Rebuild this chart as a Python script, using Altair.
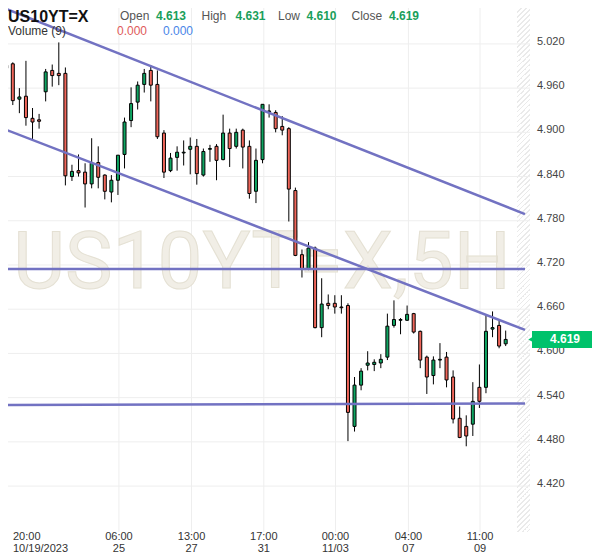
import altair as alt
import pandas as pd

# ---------------- data ----------------
opens = [4.991, 4.993, 4.945, 4.949, 4.919, 4.917, 4.955, 4.984, 4.980, 4.980,
         4.840, 4.848, 4.846, 4.830, 4.859, 4.842, 4.819, 4.835, 4.870, 4.916,
         4.941, 4.965, 4.984, 4.965, 4.899, 4.848, 4.866, 4.872, 4.877, 4.881,
         4.842, 4.877, 4.881, 4.863, 4.899, 4.881, 4.903, 4.881, 4.820, 4.863,
         4.928, 4.927, 4.908, 4.905, 4.821, 4.734, 4.714, 4.743, 4.635, 4.668,
         4.668, 4.663, 4.665, 4.501, 4.557, 4.584, 4.585, 4.587, 4.595, 4.638,
         4.645, 4.645, 4.654, 4.630, 4.595, 4.570, 4.591, 4.595, 4.568, 4.512,
         4.501, 4.504, 4.554, 4.554, 4.633, 4.638, 4.613]
highs = [4.997, 4.995, 4.960, 4.997, 4.933, 4.925, 4.986, 4.992, 5.022, 4.988,
         4.856, 4.870, 4.858, 4.892, 4.881, 4.843, 4.842, 4.869, 4.920, 4.961,
         4.969, 4.986, 4.991, 4.984, 4.903, 4.872, 4.881, 4.889, 4.893, 4.891,
         4.878, 4.883, 4.884, 4.924, 4.905, 4.905, 4.905, 4.889, 4.878, 4.938,
         4.938, 4.930, 4.922, 4.907, 4.825, 4.741, 4.751, 4.745, 4.702, 4.680,
         4.679, 4.679, 4.668, 4.568, 4.580, 4.603, 4.592, 4.599, 4.654, 4.672,
         4.648, 4.665, 4.655, 4.631, 4.597, 4.596, 4.614, 4.602, 4.577, 4.528,
         4.516, 4.561, 4.585, 4.652, 4.657, 4.644, 4.631]
lows = [4.974, 4.937, 4.926, 4.909, 4.891, 4.905, 4.942, 4.962, 4.964, 4.828,
        4.834, 4.840, 4.798, 4.824, 4.824, 4.809, 4.805, 4.815, 4.851, 4.907,
        4.931, 4.954, 4.942, 4.891, 4.838, 4.846, 4.848, 4.855, 4.843, 4.829,
        4.840, 4.860, 4.835, 4.862, 4.853, 4.878, 4.851, 4.810, 4.804, 4.858,
        4.920, 4.900, 4.896, 4.779, 4.732, 4.703, 4.713, 4.634, 4.622, 4.660,
        4.654, 4.654, 4.481, 4.494, 4.550, 4.577, 4.576, 4.580, 4.591, 4.635,
        4.626, 4.644, 4.627, 4.580, 4.545, 4.558, 4.580, 4.554, 4.505, 4.485,
        4.474, 4.488, 4.526, 4.546, 4.622, 4.607, 4.610]
closes = [4.987, 4.943, 4.948, 4.920, 4.914, 4.915, 4.982, 4.977, 4.977, 4.841,
          4.847, 4.845, 4.830, 4.858, 4.839, 4.820, 4.835, 4.869, 4.914, 4.939,
          4.964, 4.980, 4.964, 4.894, 4.846, 4.865, 4.873, 4.873, 4.881, 4.844,
          4.874, 4.878, 4.862, 4.899, 4.878, 4.900, 4.880, 4.817, 4.862, 4.938,
          4.929, 4.905, 4.903, 4.823, 4.733, 4.715, 4.743, 4.635, 4.667, 4.665,
          4.663, 4.662, 4.520, 4.557, 4.576, 4.587, 4.588, 4.592, 4.637, 4.646,
          4.646, 4.653, 4.629, 4.591, 4.568, 4.591, 4.592, 4.564, 4.511, 4.486,
          4.488, 4.535, 4.535, 4.630, 4.635, 4.610, 4.619]

x_tick_pos = [1.03, 17.15, 28.2, 39.2, 50.1, 61.2, 72.1]
x_tick_time = ["20:00", "06:00", "13:00", "17:00", "00:00", "04:00", "11:00"]
x_tick_date = ["10/19/2023", "25", "27", "31", "11/03", "07", "09"]
y_ticks = [4.42, 4.48, 4.54, 4.60, 4.66, 4.72, 4.78, 4.84, 4.90, 4.96, 5.02]

trend_name = ["upper", "upper", "lower", "lower", "h1", "h1", "h2", "h2"]
trend_idx = [-0.164, 78.94, -0.164, 78.94, -0.164, 78.94, -0.164, 78.94]
trend_val = [5.068, 4.789, 4.904, 4.632, 4.7146, 4.7146, 4.530, 4.532]

symbol = "US10YT=X"
watermark = "US10YT=X,5H"
ohlc_names = ["Open", "High", "Low", "Close"]
ohlc_values = ["4.613", "4.631", "4.610", "4.619"]
volume_label = "Volume (9)"
volume_values = ["0.000", "0.000"]

# ---------------- styling ----------------
GREEN = "#0fa562"
RED = "#f0665a"
LINE = "#7272c2"
GRID = "#eeeeee"
FONT = "Liberation Sans"

X_DOMAIN = [1.03, 78.94]
Y_DOMAIN = [4.3577, 5.0687]
W, H = 522, 524

# diagonal hatch of the "future" strip, drawn as a striped linear gradient
HATCH_W = 13
span = HATCH_W + H
period = 5.0
stops = []
k = 0
while k * period < span:
    a = k * period / span
    b = min((k * period + 3.8) / span, 1.0)
    c = min((k * period + period) / span, 1.0)
    stops += [{"offset": a, "color": "#ffffff"}, {"offset": b, "color": "#ffffff"},
              {"offset": b, "color": "#eaeaea"}, {"offset": c, "color": "#eaeaea"}]
    k += 1
g = span / (HATCH_W ** 2 + H ** 2)
hatch_fill = {"gradient": "linear", "x1": 0, "y1": 0,
              "x2": g * HATCH_W, "y2": g * H, "stops": stops}

df = pd.DataFrame({"i": list(range(len(opens))), "open": opens, "high": highs,
                   "low": lows, "close": closes})
df["dir"] = ["up" if c > o else "down" for o, c in zip(opens, closes)]
last = df.tail(1)

tr = pd.DataFrame({"name": trend_name, "i": trend_idx, "v": trend_val})
xt = pd.DataFrame({"pos": x_tick_pos,
                   "lab": [t + "\n" + d for t, d in zip(x_tick_time, x_tick_date)]})
yt = pd.DataFrame({"v": y_ticks})

xs = alt.Scale(domain=X_DOMAIN, nice=False, zero=False)
ys = alt.Scale(domain=Y_DOMAIN, nice=False, zero=False)


def X(field):
    return alt.X(field, scale=xs, axis=None)


def Y(field):
    return alt.Y(field, scale=ys, axis=None)


# grid + axis labels
hgrid = alt.Chart(yt).mark_rule(color=GRID, strokeWidth=1).encode(
    y=Y("v:Q"), x=alt.value(0), x2=alt.value(W))
vgrid = alt.Chart(xt.iloc[1:]).mark_rule(color=GRID, strokeWidth=1).encode(
    x=X("pos:Q"), y=alt.value(0), y2=alt.value(H))
ylabels = alt.Chart(yt).mark_text(font=FONT, fontSize=11, color="#444", align="left",
                                  baseline="middle", dy=-2).encode(
    y=Y("v:Q"), x=alt.value(529), text=alt.Text("v:Q", format=".3f"))
xlab_style = dict(font=FONT, fontSize=11, color="#333", baseline="top",
                  lineBreak="\n", lineHeight=12)
xlabel_first = alt.Chart(xt.iloc[:1]).mark_text(align="left", **xlab_style).encode(
    x=X("pos:Q"), y=alt.value(H - 1), text="lab:N")
xlabels = alt.Chart(xt.iloc[1:]).mark_text(align="center", **xlab_style).encode(
    x=X("pos:Q"), y=alt.value(H - 1), text="lab:N")

base = alt.Chart(df)
wicks = base.mark_rule(color="black", strokeWidth=1, clip=True).encode(
    x=X("i:Q"), y=Y("low:Q"), y2="high:Q")
bodies = base.mark_bar(width=3, stroke="black", strokeWidth=1, clip=True).encode(
    x=X("i:Q"), y=Y("open:Q"), y2="close:Q",
    color=alt.Color("dir:N", scale=alt.Scale(domain=["up", "down"], range=[GREEN, RED]),
                    legend=None),
)

hatch = alt.Chart(pd.DataFrame({"a": [0]})).mark_rect(fill=hatch_fill).encode(
    x=alt.value(W - HATCH_W), x2=alt.value(W), y=alt.value(0), y2=alt.value(H))

wm = alt.Chart(pd.DataFrame({"t": [watermark]})).mark_text(
    font="Roboto", fontSize=80, fill="#f1eee6", stroke="#e4e0d3", strokeWidth=1,
    align="center", baseline="alphabetic").encode(
    text="t:N", x=alt.value(254), y=alt.value(280))

lines = alt.Chart(tr).mark_line(color=LINE, strokeWidth=2.5, clip=True).encode(
    x=X("i:Q"), y=Y("v:Q"), detail="name:N")

price_box = alt.Chart(last).mark_rule(color="#00c26b", strokeWidth=17, strokeCap="butt").encode(
    x=alt.value(524), x2=alt.value(584), y=Y("close:Q"))
price_tip = alt.Chart(last).mark_point(shape="triangle-left", filled=True, size=40,
                                       color="#00c26b", opacity=1).encode(
    x=alt.value(523), y=Y("close:Q"))
price_txt = alt.Chart(last).mark_text(color="white", fontWeight="bold", fontSize=12,
                                      font=FONT, align="center", baseline="middle").encode(
    x=alt.value(557), y=Y("close:Q"), text=alt.Text("close:Q", format=".3f"))


def label(txt, x, y, size=12, color="#555", weight="normal"):
    return alt.Chart(pd.DataFrame({"t": [txt]})).mark_text(
        font=FONT, fontSize=size, color=color, fontWeight=weight,
        align="left", baseline="alphabetic").encode(
        text="t:N", x=alt.value(x), y=alt.value(y))


header = [label(symbol, 0, 14, size=16, color="#111", weight="bold")]
name_x = [112, 193.5, 270, 343.5]
val_x = [148, 227.5, 298.5, 381]
for n, v, nx, vx in zip(ohlc_names, ohlc_values, name_x, val_x):
    header.append(label(n, nx, 12))
    header.append(label(v, vx, 12, color="#1a9f5b", weight="bold"))
header.append(label(volume_label, 0, 27, color="#333"))
header.append(label(volume_values[0], 109, 27, color="#e05a5a"))
header.append(label(volume_values[1], 155, 27, color="#4a86e8"))

chart = alt.layer(hatch, hgrid, vgrid, wm, wicks, bodies, lines,
                  ylabels, xlabel_first, xlabels,
                  price_box, price_tip, price_txt, *header).properties(
    width=W, height=H,
    autosize=alt.AutoSizeParams(type="none"),
    padding={"left": 0, "top": 0, "right": 62, "bottom": 25},
    background="white",
).configure_view(stroke=None)

chart.save("out.html", embed_options={"renderer": "svg", "actions": False})
